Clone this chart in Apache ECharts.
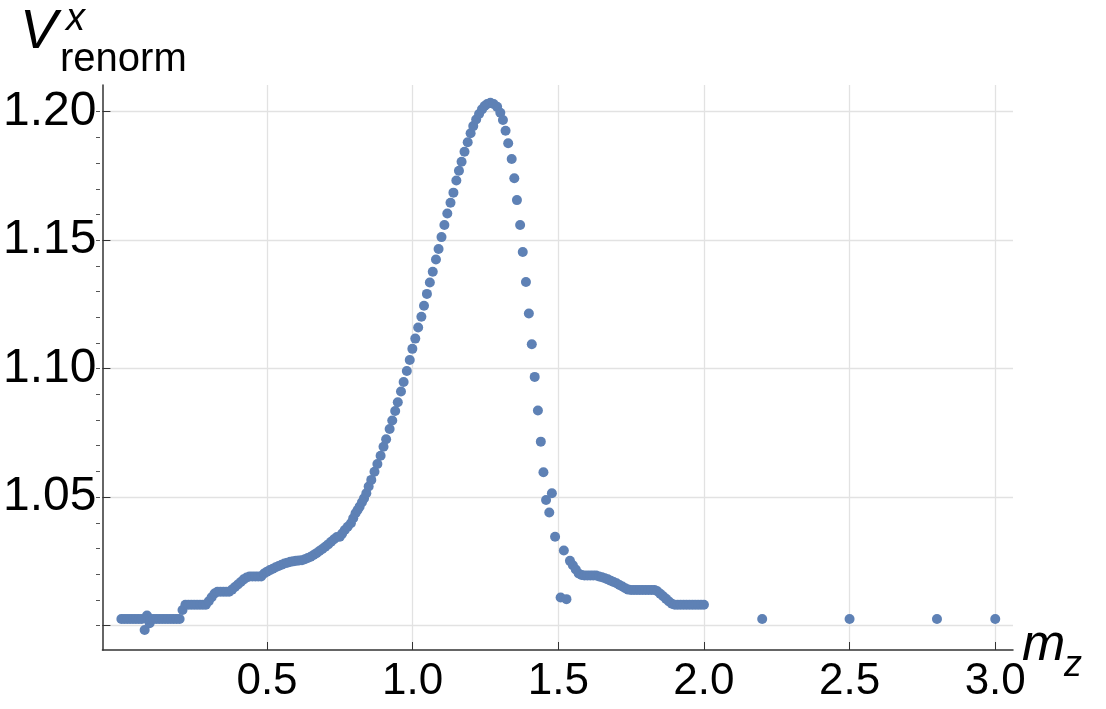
<!DOCTYPE html>
<html><head><meta charset="utf-8">
<script src="https://cdn.jsdelivr.net/npm/echarts@6/dist/echarts.min.js"></script>
<style>html,body{margin:0;background:#fff}#c{width:1106px;height:709px}</style></head>
<body><div id="c"></div>
<script>
const xs = [0.00,0.01,0.02,0.03,0.04,0.05,0.06,0.07,0.080,0.088,0.097,0.10,0.11,0.12,0.13,0.14,0.15,0.16,0.17,0.18,0.19,0.20,0.21,0.22,0.23,0.24,0.25,0.26,0.27,0.28,0.29,0.30,0.31,0.32,0.33,0.34,0.35,0.36,0.37,0.38,0.39,0.40,0.41,0.42,0.43,0.44,0.45,0.46,0.47,0.48,0.49,0.50,0.51,0.52,0.53,0.54,0.55,0.56,0.57,0.58,0.59,0.60,0.61,0.62,0.63,0.64,0.65,0.66,0.67,0.68,0.69,0.70,0.71,0.72,0.73,0.74,
0.750,0.758,0.767,0.777,0.788,0.796,0.804,0.811,0.818,0.826,0.833,0.841,0.849,0.858,0.869,0.879,0.890,0.900,0.909,0.921,0.930,0.940,0.949,0.960,0.969,0.980,0.990,0.999,1.009,1.019,1.030,1.039,1.049,1.059,1.069,1.080,1.089,1.099,1.109,1.119,1.130,1.140,1.150,1.159,1.168,1.178,1.189,1.199,1.208,1.218,1.228,1.238,1.247,1.256,1.267,1.278,1.290,1.301,1.310,1.319,1.328,1.340,1.349,1.358,1.369,1.378,1.389,1.399,1.409,1.419,1.430,1.440,1.449,1.458,1.469,1.478,1.489,1.508,1.519,1.528,
1.54,1.55,1.56,1.57,1.58,1.59,1.60,1.61,1.62,1.63,1.64,1.65,1.66,1.67,1.68,1.69,1.70,1.71,1.72,1.73,1.74,1.75,1.76,1.77,1.78,1.79,1.80,1.81,1.82,1.83,1.84,1.85,1.86,1.87,1.88,1.89,1.90,1.91,1.92,1.93,1.94,1.95,1.96,1.97,1.98,1.99,2.00,2.2,2.5,2.8,3.0];
const ys = [1.0026,1.0026,1.0026,1.0026,1.0026,1.0026,1.0026,1.0026,0.9983,1.0039,1.0009,1.0026,1.0026,1.0026,1.0026,1.0026,1.0026,1.0026,1.0026,1.0026,1.0026,1.0026,1.0061,1.0081,1.0081,1.0081,1.0081,1.0081,1.0081,1.0081,1.0081,1.0095,1.0110,1.0125,1.0132,1.0132,1.0132,1.0132,1.0132,1.0140,1.0150,1.0160,1.0170,1.0180,1.0187,1.0191,1.0191,1.0191,1.0191,1.0191,1.0203,1.0210,1.0216,1.0221,1.0227,1.0232,1.0237,1.0242,1.0245,1.0248,1.0250,1.0252,1.0253,1.0254,1.0258,1.0263,1.0268,1.0275,1.0282,1.0290,1.0298,1.0307,1.0316,1.0326,1.0336,1.0345,
1.0346,1.0358,1.0372,1.0385,1.0398,1.0418,1.0437,1.0450,1.0463,1.0480,1.0495,1.0515,1.0541,1.0567,1.0599,1.0629,1.0661,1.0696,1.0725,1.0765,1.0798,1.0835,1.0869,1.0911,1.0948,1.0991,1.1034,1.1077,1.1117,1.1160,1.1202,1.1245,1.1291,1.1335,1.1377,1.1425,1.1466,1.1512,1.1559,1.1604,1.1646,1.1685,1.1732,1.1770,1.1805,1.1844,1.1881,1.1916,1.1944,1.1970,1.1991,1.2009,1.2022,1.2030,1.2035,1.2030,1.2019,1.1996,1.1968,1.1926,1.1877,1.1816,1.1741,1.1656,1.1559,1.1454,1.1337,1.1215,1.1095,1.0968,1.0837,1.0716,1.0597,1.0489,1.0440,1.0515,1.0346,1.0109,1.0292,1.0103,
1.0252,1.0235,1.0218,1.0203,1.0197,1.0195,1.0195,1.0195,1.0195,1.0195,1.0191,1.0188,1.0184,1.0180,1.0175,1.0170,1.0165,1.0158,1.0152,1.0145,1.0140,1.0139,1.0139,1.0139,1.0139,1.0139,1.0139,1.0139,1.0139,1.0139,1.0134,1.0124,1.0114,1.0104,1.0094,1.0085,1.0081,1.0081,1.0081,1.0081,1.0081,1.0081,1.0081,1.0081,1.0081,1.0081,1.0081,1.0026,1.0026,1.0026,1.0026];
const xTicks = [0.5,1.0,1.5,2.0,2.5,3.0];
const yTicks = [1.05,1.10,1.15,1.20];
const yGrid = [1.00,1.05,1.10,1.15,1.20];
const yMinor = [1.00,1.01,1.02,1.03,1.04,1.05,1.06,1.07,1.08,1.09,1.10,1.11,1.12,1.13,1.14,1.15,1.16,1.17,1.18,1.19,1.20];

const chart = echarts.init(document.getElementById('c'));
const gridLine = {color:'#e2e2e2', width:1.3, type:'solid'};
const F = 'Liberation Sans, Arial';
chart.setOption({
  animation:false,
  grid:[{left:96,right:93,top:85,bottom:59},{left:96,right:93,top:85,bottom:59}],
  xAxis:[{type:'value',min:-0.065,max:3.061,splitLine:{show:false},
    axisLine:{onZero:false,lineStyle:{color:'#333',width:1.5}},
    axisTick:{customValues:xTicks,inside:true,length:8,lineStyle:{color:'#333'}},
    axisLabel:{customValues:xTicks,formatter:v=>v.toFixed(1),fontSize:44,color:'#000',fontFamily:F,margin:10}},
    {gridIndex:1,type:'value',min:-0.065,max:3.061,show:false}],
  yAxis:[{type:'value',min:0.9905,max:1.2104,splitLine:{show:false},
    axisLine:{show:true,onZero:false,lineStyle:{color:'#333',width:1.5}},
    axisTick:{customValues:yGrid,inside:true,length:8,lineStyle:{color:'#333'}},
    axisLabel:{customValues:yTicks,formatter:v=>v.toFixed(2),fontSize:48,color:'#000',fontFamily:F,margin:6}},
    {gridIndex:1,type:'value',min:0.9905,max:1.2104,splitLine:{show:false},
    axisLine:{show:false,onZero:false},axisLabel:{show:false},
    axisTick:{customValues:yMinor,inside:true,length:4,lineStyle:{color:'#555'}}}],
  series:[{type:'scatter',symbolSize:10,itemStyle:{color:'#5e81b5',opacity:1},
    data:xs.map((x,i)=>[x,ys[i]]),
    markLine:{silent:true,symbol:'none',label:{show:false},lineStyle:gridLine,z:0,
      data:[...xTicks.map(v=>({xAxis:v})),...yGrid.map(v=>({yAxis:v}))]}}],
  graphic:[
    {type:'text',left:20,top:4,style:{text:'V',font:'italic 56px '+F,fill:'#000'}},
    {type:'text',left:66,top:0,style:{text:'x',font:'italic 38px '+F,fill:'#000'}},
    {type:'text',left:60,top:40,style:{text:'renorm',font:'40px '+F,fill:'#000'}},
    {type:'text',left:1022,top:620,style:{text:'m',font:'italic 52px '+F,fill:'#000'}},
    {type:'text',left:1064,top:648,style:{text:'z',font:'italic 36px '+F,fill:'#000'}}
  ]
});
</script></body></html>
